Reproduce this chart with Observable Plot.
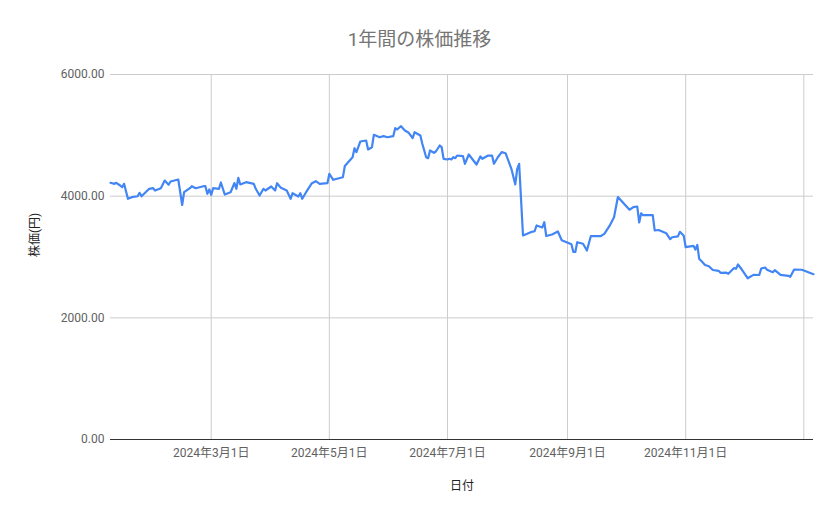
<!DOCTYPE html>
<html>
<head>
<meta charset="utf-8">
<script src="https://cdn.jsdelivr.net/npm/d3@7"></script>
<script src="https://cdn.jsdelivr.net/npm/@observablehq/plot@0.6"></script>
<style>
  body { margin: 0; background: #ffffff; font-family: Roboto, "Noto Sans CJK JP", sans-serif; }
  #title { height: 60px; box-sizing: border-box; padding-top: 28px; line-height: 24px; text-align: center; font-size: 19px; color: #757575; }
  #chart svg { display: block; }
</style>
</head>
<body>
<div id="title">1年間の株価推移</div>
<div id="chart"></div>
<script>
const dates = [
  "2024-01-09","2024-01-11","2024-01-12","2024-01-14","2024-01-15","2024-01-16","2024-01-18","2024-01-20",
  "2024-01-23","2024-01-24","2024-01-25","2024-01-29","2024-01-31","2024-02-01","2024-02-04","2024-02-06",
  "2024-02-08","2024-02-09","2024-02-13","2024-02-15","2024-02-16","2024-02-19","2024-02-20","2024-02-22",
  "2024-02-26","2024-02-27","2024-02-28","2024-02-29","2024-03-01","2024-03-02","2024-03-05","2024-03-06",
  "2024-03-08","2024-03-11","2024-03-13","2024-03-14","2024-03-15","2024-03-16","2024-03-19","2024-03-23",
  "2024-03-24","2024-03-26","2024-03-28","2024-03-29","2024-04-01","2024-04-03","2024-04-04","2024-04-06",
  "2024-04-09","2024-04-11","2024-04-12","2024-04-15","2024-04-16","2024-04-17","2024-04-19","2024-04-22",
  "2024-04-24","2024-04-26","2024-04-30","2024-05-01","2024-05-03","2024-05-08","2024-05-09","2024-05-13",
  "2024-05-14","2024-05-15","2024-05-17","2024-05-20","2024-05-21","2024-05-23","2024-05-24","2024-05-27",
  "2024-05-29","2024-05-31","2024-06-03","2024-06-04","2024-06-05","2024-06-07","2024-06-09","2024-06-11",
  "2024-06-13","2024-06-14","2024-06-17","2024-06-18","2024-06-20","2024-06-21","2024-06-22","2024-06-24",
  "2024-06-25","2024-06-27","2024-06-28","2024-06-29","2024-07-01","2024-07-02","2024-07-03","2024-07-04",
  "2024-07-05","2024-07-06","2024-07-09","2024-07-10","2024-07-12","2024-07-16","2024-07-18","2024-07-19",
  "2024-07-22","2024-07-24","2024-07-25","2024-07-27","2024-07-29","2024-07-31","2024-08-03","2024-08-05",
  "2024-08-06","2024-08-07","2024-08-09","2024-08-13","2024-08-15","2024-08-16","2024-08-19","2024-08-20",
  "2024-08-21","2024-08-24","2024-08-27","2024-08-29","2024-09-03","2024-09-04","2024-09-05","2024-09-06",
  "2024-09-09","2024-09-11","2024-09-13","2024-09-18","2024-09-20","2024-09-23","2024-09-25","2024-09-27",
  "2024-10-03","2024-10-05","2024-10-07","2024-10-08","2024-10-09","2024-10-10","2024-10-15","2024-10-16",
  "2024-10-18","2024-10-22","2024-10-24","2024-10-25","2024-10-28","2024-10-29","2024-10-31","2024-11-01",
  "2024-11-05","2024-11-06","2024-11-07","2024-11-08","2024-11-09","2024-11-11","2024-11-13","2024-11-15",
  "2024-11-18","2024-11-19","2024-11-22","2024-11-23","2024-11-26","2024-11-27","2024-11-28","2024-11-30",
  "2024-12-03","2024-12-06","2024-12-09","2024-12-10","2024-12-12","2024-12-13","2024-12-16","2024-12-17",
  "2024-12-20","2024-12-24","2024-12-25","2024-12-27","2024-12-31","2025-01-06"
];
const prices = [
  4220,4203,4220,4175,4147,4203,3957,3983,
  3999,4055,3999,4121,4131,4093,4131,4257,
  4187,4241,4274,3855,4065,4131,4164,4131,
  4164,4164,4039,4110,4022,4131,4121,4225,
  4027,4065,4216,4121,4302,4192,4230,4203,
  4121,4011,4121,4093,4159,4093,4213,4137,
  4093,3957,4049,3994,4049,3957,4065,4213,
  4246,4203,4213,4368,4269,4312,4496,4640,
  4788,4723,4899,4915,4767,4805,5009,4969,
  4986,4969,4986,5117,5096,5150,5079,5042,
  4953,5051,4997,4861,4640,4624,4751,4713,
  4734,4833,4805,4614,4603,4614,4603,4640,
  4624,4668,4657,4532,4685,4520,4652,4614,
  4668,4668,4532,4640,4723,4706,4450,4192,
  4450,4532,3353,3408,3424,3518,3485,3572,
  3345,3370,3419,3276,3210,3082,3082,3243,
  3217,3107,3342,3342,3381,3529,3654,3986,
  3777,3819,3830,3567,3718,3687,3687,3436,
  3444,3390,3293,3325,3340,3414,3348,3161,
  3184,3123,3197,2967,2938,2868,2849,2786,
  2773,2740,2742,2724,2819,2806,2877,2794,
  2651,2707,2704,2811,2827,2791,2750,2783,
  2707,2691,2674,2794,2790,2717
];
const yTicks = [0, 2000, 4000, 6000];
const gridDates = ["2024-03-01","2024-05-01","2024-07-01","2024-09-01","2024-11-01","2025-01-01"];
const labelDates = ["2024-03-01","2024-05-01","2024-07-01","2024-09-01","2024-11-01"];
const xTitle = "日付";
const yTitle = "株価(円)";

const data = dates.map((d, i) => ({date: new Date(d), price: prices[i]}));
const fmtDate = d => `${d.getUTCFullYear()}年${d.getUTCMonth() + 1}月${d.getUTCDate()}日`;

const chart = Plot.plot({
  width: 839,
  height: 459,
  marginLeft: 110,
  marginRight: 26,
  marginTop: 14,
  marginBottom: 80,
  style: {fontFamily: 'Roboto, "Noto Sans CJK JP", sans-serif', fontSize: "12px", background: "#ffffff", color: "#616161"},
  x: {type: "utc", domain: [data[0].date, data[data.length - 1].date]},
  y: {domain: [0, 6000]},
  marks: [
    Plot.ruleY(yTicks.filter(v => v > 0), {stroke: "#cccccc", strokeWidth: 1}),
    Plot.ruleX(gridDates.map(d => new Date(d)), {stroke: "#cccccc", strokeWidth: 1}),
    Plot.axisY(yTicks, {tickSize: 0, tickPadding: 6, tickFormat: d3.format(".2f"), label: null, fill: "#616161"}),
    Plot.axisX(labelDates.map(d => new Date(d)), {tickSize: 0, tickPadding: 9, tickFormat: fmtDate, label: null, fill: "#616161"}),
    Plot.ruleY([0], {stroke: "#333333", strokeWidth: 1}),
    Plot.line(data, {x: "date", y: "price", stroke: "#4285f4", strokeWidth: 2.2, curve: "linear"}),
    Plot.text([xTitle], {text: d => d, frameAnchor: "bottom", dy: 50, fill: "#222222", fontSize: 12}),
    Plot.text([yTitle], {text: d => d, frameAnchor: "left", dx: -75, rotate: -90, fill: "#222222", fontSize: 12})
  ]
});
document.getElementById("chart").appendChild(chart);
</script>
</body>
</html>
